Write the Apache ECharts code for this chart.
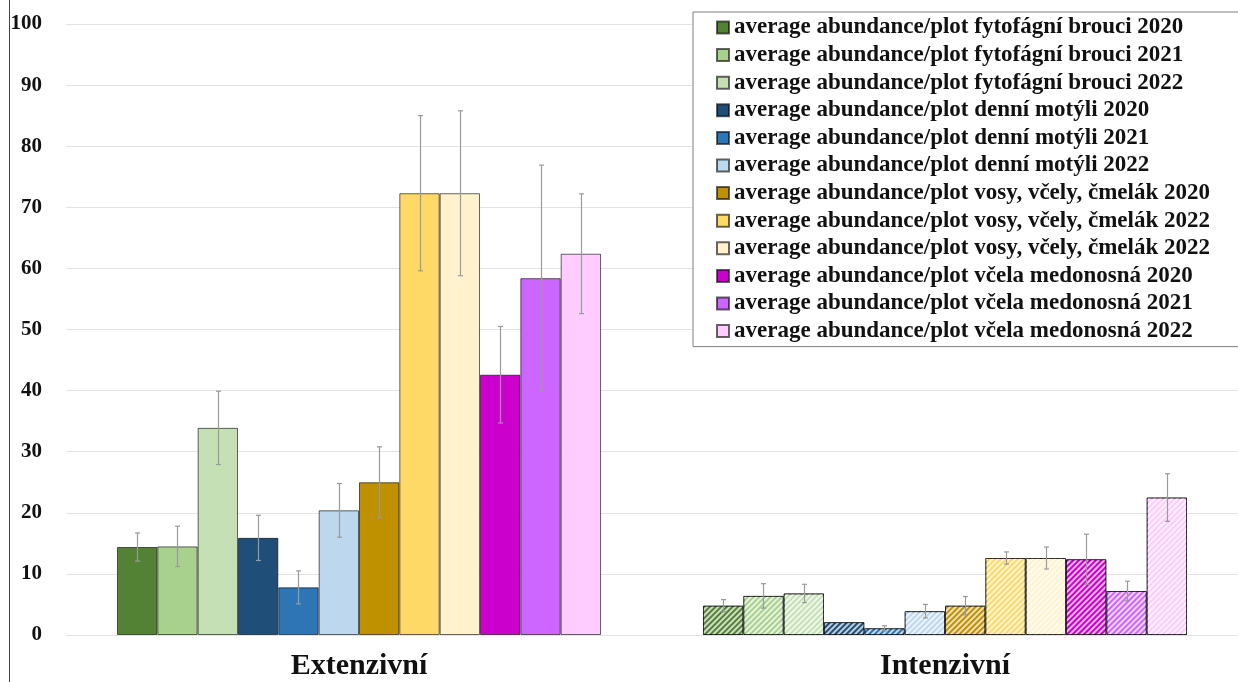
<!DOCTYPE html>
<html>
<head>
<meta charset="utf-8">
<script src="https://cdn.jsdelivr.net/npm/echarts@6/dist/echarts.min.js"></script>
<style>
  html, body { margin: 0; padding: 0; background: #fff; }
  #chart { width: 1238px; height: 682px; }
</style>
</head>
<body>
<div id="chart"></div>
<script>
// data
const categories = ['Extenzivní', 'Intenzivní']
const seriesNames = [
  'average abundance/plot fytofágní brouci 2020',
  'average abundance/plot fytofágní brouci 2021',
  'average abundance/plot fytofágní brouci 2022',
  'average abundance/plot denní motýli 2020',
  'average abundance/plot denní motýli 2021',
  'average abundance/plot denní motýli 2022',
  'average abundance/plot vosy, včely, čmelák 2020',
  'average abundance/plot vosy, včely, čmelák 2022',
  'average abundance/plot vosy, včely, čmelák 2022 ',
  'average abundance/plot včela medonosná 2020',
  'average abundance/plot včela medonosná 2021',
  'average abundance/plot včela medonosná 2022'
]
const colors = ['#548235', '#a9d18e', '#c5e0b4', '#1f4e79', '#2e75b6', '#bdd7ee',
  '#bf9000', '#ffd966', '#fff2cc', '#cc00cc', '#cc66ff', '#ffccff']
const extValues = [14.4, 14.5, 33.9, 15.9, 7.8, 20.4, 25.0, 72.3, 72.3, 42.6, 58.4, 62.4]
const extErrors = [2.3, 3.3, 6.0, 3.7, 2.7, 4.4, 5.8, 12.7, 13.5, 7.9, 18.5, 9.8]
const intValues = [4.8, 6.4, 6.8, 2.1, 1.1, 3.9, 4.8, 12.6, 12.6, 12.4, 7.2, 22.5]
const intErrors = [1.0, 2.0, 1.5, 0, 0.4, 1.1, 1.5, 1.0, 1.8, 4.1, 1.6, 3.9]
const yTicks = [0, 10, 20, 30, 40, 50, 60, 70, 80, 90, 100]

const catGap = 0.174
const serif = "'Liberation Serif', 'DejaVu Serif', serif"

const hatch = {
  symbol: 'rect',
  symbolSize: 1,
  dashArrayX: [1, 0],
  dashArrayY: [2, 2],
  rotation: -Math.PI / 4,
  color: 'rgba(255,255,255,0.72)'
}

let series = seriesNames.map((name, i) => ({
  name: name,
  type: 'bar',
  barGap: 0,
  barCategoryGap: (catGap * 100) + '%',
  itemStyle: { color: colors[i], borderColor: 'rgba(0,0,0,0.6)', borderWidth: 1 },
  data: [
    extValues[i],
    { value: intValues[i], itemStyle: { decal: hatch } }
  ]
}))

// error bars: [category index, series index, low, high]
let errData = []
seriesNames.forEach((n, i) => {
  errData.push([0, i, extValues[i] - extErrors[i], extValues[i] + extErrors[i]])
  if (intErrors[i] > 0) errData.push([1, i, intValues[i] - intErrors[i], intValues[i] + intErrors[i]])
})

series.push({
  type: 'custom',
  name: 'err',
  z: 10,
  renderItem: function (params, api) {
    const band = api.size([1, 0])[0]
    const total = band * (1 - catGap)
    const bw = total / seriesNames.length
    const lo = api.coord([api.value(0), api.value(2)])
    const hi = api.coord([api.value(0), api.value(3)])
    const x = Math.round(lo[0] - total / 2 + (api.value(1) + 0.5) * bw) + 0.5
    const cap = 2.5
    const st = { stroke: '#9a9a9a', lineWidth: 1.2 }
    return {
      type: 'group',
      children: [
        { type: 'line', shape: { x1: x, y1: hi[1], x2: x, y2: lo[1] }, style: st },
        { type: 'line', shape: { x1: x - cap, y1: hi[1], x2: x + cap, y2: hi[1] }, style: st },
        { type: 'line', shape: { x1: x - cap, y1: lo[1], x2: x + cap, y2: lo[1] }, style: st }
      ]
    }
  },
  data: errData
})

const option = {
  animation: false,
  color: colors,
  grid: { left: 66, right: 0, top: 24, bottom: 47 },
  legend: {
    data: seriesNames,
    orient: 'vertical',
    left: 693,
    top: 12,
    backgroundColor: '#fff',
    borderColor: '#7f7f7f',
    borderWidth: 1,
    padding: [4, 120, 4, 23],
    itemWidth: 12,
    itemHeight: 12,
    itemGap: 4.6,
    icon: 'rect',
    textStyle: { fontFamily: serif, fontWeight: 'bold', fontSize: 23, lineHeight: 23, color: '#111' }
  },
  xAxis: {
    type: 'category',
    data: categories,
    axisLine: { show: true, lineStyle: { color: '#e3e3e3' } },
    axisTick: { show: false },
    axisLabel: { fontFamily: serif, fontWeight: 'bold', fontSize: 30, color: '#111', margin: 16 }
  },
  yAxis: {
    type: 'value',
    min: yTicks[0],
    max: yTicks[yTicks.length - 1],
    interval: yTicks[1] - yTicks[0],
    axisLine: { show: false },
    axisTick: { show: false },
    splitLine: { lineStyle: { color: '#e3e3e3' } },
    axisLabel: { fontFamily: serif, fontWeight: 'bold', fontSize: 21, color: '#111', margin: 24 }
  },
  graphic: [{
    type: 'line',
    shape: { x1: 9.5, y1: 0, x2: 9.5, y2: 682 },
    style: { stroke: '#444', lineWidth: 1 }
  }],
  series: series
}

const chart = echarts.init(document.getElementById('chart'), null, { renderer: 'canvas' })
chart.setOption(option)
</script>
</body>
</html>
